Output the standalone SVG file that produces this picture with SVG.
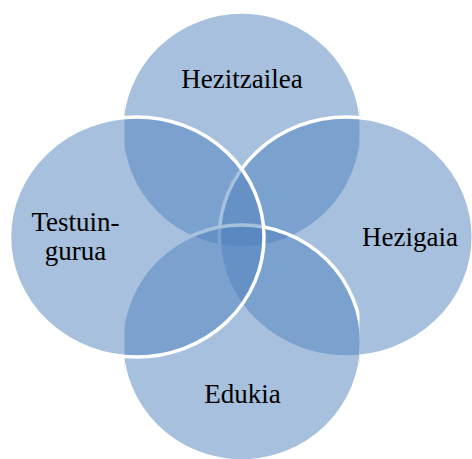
<svg xmlns="http://www.w3.org/2000/svg" width="472" height="459" viewBox="0 0 472 459">
  <style>
    .set { fill: #4F81BD; fill-opacity: 0.5; stroke: #FFFFFF; stroke-width: 3.5; }
    .label { font-family: "Liberation Serif", "Times New Roman", serif; font-size: 27px; fill: #000000; text-anchor: middle; }
  </style>
  <defs>
    <!-- top and bottom sets are trimmed to a common column -->
    <clipPath id="column">
      <rect x="124.5" y="0" width="235" height="459"/>
    </clipPath>
  </defs>
  <rect width="472" height="459" fill="#FFFFFF"/>
  <g id="connectors"></g>
  <g id="hezitzailea">
    <ellipse class="set" cx="241.75" cy="130" rx="120" ry="118" clip-path="url(#column)"/>
    <text class="label" x="242" y="88">Hezitzailea</text>
  </g>
  <g id="hezigaia">
    <ellipse class="set" cx="346.25" cy="237" rx="127" ry="120"/>
    <text class="label" x="410" y="246">Hezigaia</text>
  </g>
  <g id="edukia">
    <ellipse class="set" cx="241.75" cy="343" rx="120" ry="118" clip-path="url(#column)"/>
    <text class="label" x="242.5" y="403">Edukia</text>
  </g>
  <g id="testuingurua">
    <ellipse class="set" cx="136.75" cy="237" rx="127.25" ry="120"/>
    <text class="label" x="75.5" y="231">Testuin-</text>
    <text class="label" x="75.5" y="259.5">gurua</text>
  </g>
</svg>
